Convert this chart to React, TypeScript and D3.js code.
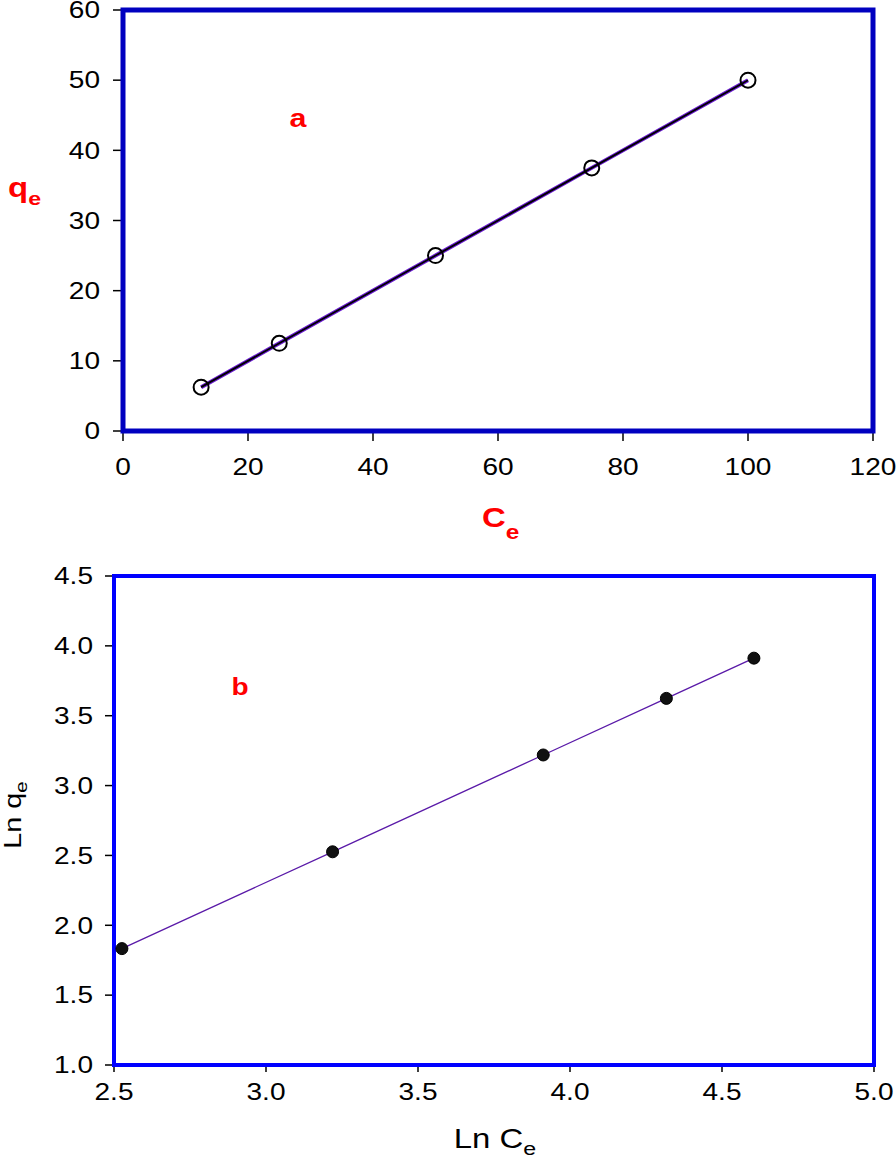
import React from "react";
import * as d3 from "d3";

const ceValues = [12.5, 25, 50, 75, 100];
const qeValues = [6.25, 12.5, 25, 37.5, 50];
const lnCeValues = [2.526, 3.219, 3.912, 4.317, 4.605];
const lnQeValues = [1.833, 2.526, 3.219, 3.624, 3.912];
const xTicksA = [0, 20, 40, 60, 80, 100, 120];
const yTicksA = [0, 10, 20, 30, 40, 50, 60];
const xTicksB = [2.5, 3.0, 3.5, 4.0, 4.5, 5.0];
const yTicksB = [1.0, 1.5, 2.0, 2.5, 3.0, 3.5, 4.0, 4.5];

const FONT = "Liberation Sans, Arial, sans-serif";
const TICK_FS = 23;
const SX = 1.22;

function WText(props: {
  x: number;
  y: number;
  sx?: number;
  rotate?: number;
  anchor?: string;
  fs: number;
  weight?: string;
  fill?: string;
  dy?: string;
  children: React.ReactNode;
}) {
  const { x, y, sx = SX, rotate = 0, anchor = "start", fs, weight = "normal", fill = "#000", dy } = props;
  return (
    <text
      transform={`translate(${x},${y}) rotate(${rotate}) scale(${sx},1)`}
      textAnchor={anchor}
      fontSize={fs}
      fontWeight={weight}
      fill={fill}
      dy={dy}
    >
      {props.children}
    </text>
  );
}

export default function App() {
  const xA = d3.scaleLinear().domain([0, 120]).range([123, 873]);
  const yA = d3.scaleLinear().domain([0, 60]).range([431, 10]);
  const xB = d3.scaleLinear().domain([2.5, 5.0]).range([114, 874]);
  const yB = d3.scaleLinear().domain([1.0, 4.5]).range([1065, 576]);

  const lineA = d3
    .line<number>()
    .x((_, i) => xA(ceValues[i]))
    .y((d) => yA(d));
  const lineB = d3
    .line<number>()
    .x((_, i) => xB(lnCeValues[i]))
    .y((d) => yB(d));

  const pathA = lineA(qeValues) || "";
  const pathB = lineB(lnQeValues) || "";

  return (
    <svg
      width={896}
      height={1162}
      style={{ position: "absolute", left: 0, top: 0, background: "#fff" }}
      fontFamily={FONT}
    >
      <rect x={0} y={0} width={896} height={1162} fill="#fff" />
      {/* Panel a */}
      {yTicksA.map((t) => (
        <g key={"ya" + t}>
          <line x1={xA(0) - 10} x2={xA(0)} y1={yA(t)} y2={yA(t)} stroke="#000" strokeWidth={1.5} />
          <WText x={xA(0) - 23} y={yA(t)} dy="0.36em" anchor="end" fs={TICK_FS}>
            {t}
          </WText>
        </g>
      ))}
      {xTicksA.map((t) => (
        <g key={"xa" + t}>
          <line x1={xA(t)} x2={xA(t)} y1={yA(0)} y2={yA(0) + 10} stroke="#000" strokeWidth={1.5} />
          <WText x={xA(t)} y={yA(0) + 44} anchor="middle" fs={TICK_FS}>
            {t}
          </WText>
        </g>
      ))}
      <rect
        x={xA(0)}
        y={yA(60)}
        width={xA(120) - xA(0)}
        height={yA(0) - yA(60)}
        fill="none"
        stroke="#0000C0"
        strokeWidth={5}
      />
      <path d={pathA} fill="none" stroke="#6a1cd0" strokeWidth={4} />
      <path d={pathA} fill="none" stroke="#000" strokeWidth={1.8} />
      {qeValues.map((q, i) => (
        <circle key={"ca" + i} cx={xA(ceValues[i])} cy={yA(q)} r={7.5} fill="none" stroke="#000" strokeWidth={2} />
      ))}
      <WText x={298} y={127} anchor="middle" fs={25} weight="bold" fill="#ff0000">
        a
      </WText>
      <WText x={8} y={197} fs={27} weight="bold" fill="#ff0000">
        q<tspan fontSize={19} dy={8}>e</tspan>
      </WText>
      <WText x={482} y={527} fs={27} weight="bold" fill="#ff0000">
        C<tspan fontSize={20} dy={12}>e</tspan>
      </WText>

      {/* Panel b */}
      {yTicksB.map((t) => (
        <g key={"yb" + t}>
          <line x1={xB(2.5) - 9} x2={xB(2.5)} y1={yB(t)} y2={yB(t)} stroke="#000" strokeWidth={1.5} />
          <WText x={xB(2.5) - 21} y={yB(t)} dy="0.36em" anchor="end" fs={TICK_FS}>
            {t.toFixed(1)}
          </WText>
        </g>
      ))}
      {xTicksB.map((t) => (
        <g key={"xb" + t}>
          <line x1={xB(t)} x2={xB(t)} y1={yB(1.0)} y2={yB(1.0) + 7} stroke="#000" strokeWidth={1.5} />
          <WText x={xB(t)} y={yB(1.0) + 35} anchor="middle" fs={TICK_FS}>
            {t.toFixed(1)}
          </WText>
        </g>
      ))}
      <rect
        x={xB(2.5)}
        y={yB(4.5)}
        width={xB(5.0) - xB(2.5)}
        height={yB(1.0) - yB(4.5)}
        fill="none"
        stroke="#0000ff"
        strokeWidth={4}
      />
      <path d={pathB} fill="none" stroke="#5a1aa8" strokeWidth={1.3} />
      {lnQeValues.map((q, i) => (
        <circle key={"cb" + i} cx={xB(lnCeValues[i])} cy={yB(q)} r={6} fill="#111" stroke="#000" strokeWidth={1} />
      ))}
      <WText x={240} y={695} anchor="middle" fs={23} weight="bold" fill="#ff0000">
        b
      </WText>
      <WText x={21} y={815} rotate={-90} sx={1.2} anchor="middle" fs={24}>
        Ln q<tspan fontSize={17} dy={6}>e</tspan>
      </WText>
      <WText x={495} y={1148} sx={1.22} anchor="middle" fs={27}>
        Ln C<tspan fontSize={19} dy={7}>e</tspan>
      </WText>
    </svg>
  );
}
